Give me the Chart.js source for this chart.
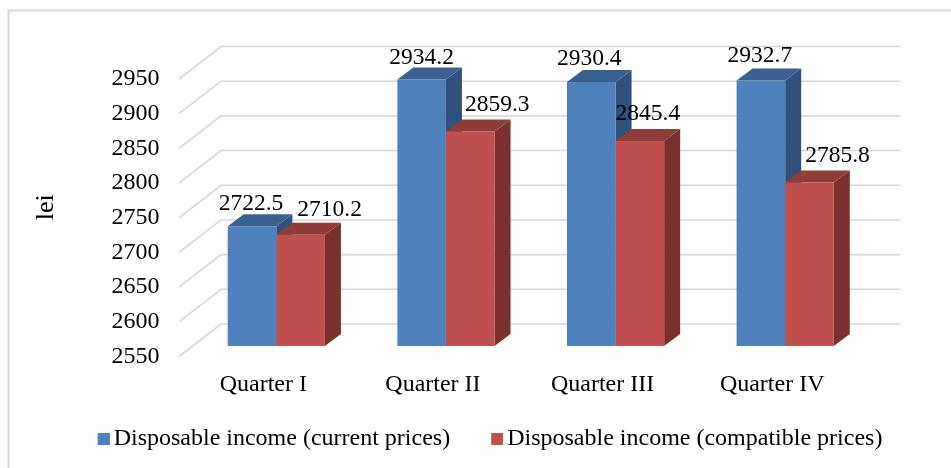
<!DOCTYPE html>
<html>
<head>
<meta charset="utf-8">
<style>html,body{margin:0;padding:0;background:#fff}#wrap{width:951px;height:468px}</style>
<script src="https://cdn.jsdelivr.net/npm/chart.js@4"></script>
</head>
<body>
<div id="wrap"><canvas id="c" width="951" height="468"></canvas></div>
<script>
const categories = ["Quarter I", "Quarter II", "Quarter III", "Quarter IV"];
const currentPrices = [2722.5, 2934.2, 2930.4, 2932.7];
const compatiblePrices = [2710.2, 2859.3, 2845.4, 2785.8];
const seriesNames = ["Disposable income (current prices)", "Disposable income (compatible prices)"];
const axisTitle = "lei";

const FONT = "'Liberation Serif','Times New Roman',serif";
const DEPTH_X = 16, DEPTH_Y = 12;
const FACE = [
  {front: "#4F81BD", top: "#3B628F", side: "#30517B"},
  {front: "#C0504D", top: "#903C39", side: "#7C302E"}
];
const LABEL_SHIFT = [[-1, 29], [0, 27], [-2, 8], [-1, 28]];
const LABEL_RISE = [[23, 25], [22, 27], [23, 27], [25, 27]];

function poly(ctx, pts, color) {
  ctx.fillStyle = color;
  ctx.beginPath();
  pts.forEach((p, i) => i ? ctx.lineTo(p[0], p[1]) : ctx.moveTo(p[0], p[1]));
  ctx.closePath();
  ctx.fill();
}

function legendSwatch(color) {
  const c = document.createElement("canvas");
  c.width = 16; c.height = 12;
  const g = c.getContext("2d");
  g.fillStyle = color;
  g.fillRect(4, 0, 12, 12);
  return c;
}

const scene = {
  id: "scene",
  beforeDraw(chart) {
    const ctx = chart.ctx;
    ctx.save();
    ctx.fillStyle = "#fff";
    ctx.fillRect(0, 0, chart.width, chart.height);
    ctx.strokeStyle = "#d9d9d9";
    ctx.lineWidth = 2;
    ctx.beginPath();
    ctx.moveTo(8.5, chart.height);
    ctx.lineTo(8.5, 10.5);
    ctx.lineTo(chart.width, 10.5);
    ctx.stroke();
    ctx.restore();
  },
  afterLayout(chart) {
    const l = chart.legend;
    l.left += 1; l.right += 1;
    l.top = 381.5; l.bottom = 468;
    chart.scales.x.bottom = 405;
  },
  beforeDatasetsDraw(chart) {
    const ctx = chart.ctx, y = chart.scales.y;
    const base = y.getPixelForValue(y.min);
    ctx.save();
    ctx.strokeStyle = "#d9d9d9";
    ctx.lineWidth = 1.6;
    y.ticks.forEach(t => {
      const py = y.getPixelForValue(t.value);
      ctx.beginPath();
      ctx.moveTo(179, py + 10.5);
      ctx.lineTo(221, py - 22);
      ctx.lineTo(900, py - 22);
      ctx.stroke();
    });
    chart.data.datasets.forEach((ds, d) => {
      chart.getDatasetMeta(d).data.forEach(bar => {
        const p = bar.getProps(["x", "y", "width"], true);
        const l = p.x - p.width / 2, r = p.x + p.width / 2;
        poly(ctx, [[r, p.y], [r + DEPTH_X, p.y - DEPTH_Y], [r + DEPTH_X, base - DEPTH_Y], [r, base]], FACE[d].side);
        poly(ctx, [[l, p.y], [l + DEPTH_X, p.y - DEPTH_Y], [r + DEPTH_X, p.y - DEPTH_Y], [r, p.y]], FACE[d].top);
      });
    });
    ctx.restore();
  },
  afterDatasetsDraw(chart) {
    const ctx = chart.ctx;
    ctx.save();
    ctx.fillStyle = "#000";
    ctx.font = "23.5px " + FONT;
    ctx.textAlign = "center";
    ctx.textBaseline = "middle";
    chart.data.datasets.forEach((ds, d) => {
      chart.getDatasetMeta(d).data.forEach((bar, i) => {
        const p = bar.getProps(["x", "y"], true);
        ctx.fillText(ds.data[i].toFixed(1), p.x + LABEL_SHIFT[i][d], p.y - LABEL_RISE[i][d]);
      });
    });
    ctx.restore();
  }
};

new Chart(document.getElementById("c"), {
  type: "bar",
  data: {
    labels: categories,
    datasets: [
      {label: seriesNames[0], data: currentPrices, backgroundColor: FACE[0].front, borderWidth: 0},
      {label: seriesNames[1], data: compatiblePrices, backgroundColor: FACE[1].front, borderWidth: 0}
    ]
  },
  plugins: [scene],
  options: {
    responsive: false,
    animation: false,
    devicePixelRatio: 1,
    layout: {padding: {left: 31, right: 0, top: 68.5, bottom: 0}},
    datasets: {bar: {barPercentage: 1, categoryPercentage: 0.573}},
    plugins: {
      tooltip: {enabled: false},
      legend: {
        position: "bottom",
        labels: {
          usePointStyle: true,
          boxWidth: 0.01,
          boxHeight: 12,
          padding: 45,
          color: "#000",
          font: {family: FONT, size: 24},
          generateLabels(chart) {
            return Chart.defaults.plugins.legend.labels.generateLabels(chart).map((item, i) =>
              Object.assign(item, {pointStyle: legendSwatch(FACE[i].front)}));
          }
        }
      }
    },
    scales: {
      x: {
        grid: {display: false},
        border: {display: false},
        afterFit(s) { s.height = 43; },
        ticks: {color: "#000", font: {family: FONT, size: 24}, padding: 16, labelOffset: -13, maxRotation: 0}
      },
      y: {
        min: 2550,
        max: 2950,
        afterFit(s) { s.width = 160.5; },
        grid: {display: false, drawTicks: false},
        border: {display: false},
        ticks: {stepSize: 50, autoSkip: false, color: "#000", font: {family: FONT, size: 24}, padding: 32, labelOffset: 10.5, callback: v => String(v)},
        title: {display: true, text: axisTitle, color: "#000", font: {family: FONT, size: 26}, padding: 0}
      },
      gutter: {
        position: "right",
        afterFit(s) { s.width = 81; },
        grid: {display: false, drawTicks: false},
        border: {display: false},
        ticks: {display: false}
      }
    }
  }
});
</script>
</body>
</html>
